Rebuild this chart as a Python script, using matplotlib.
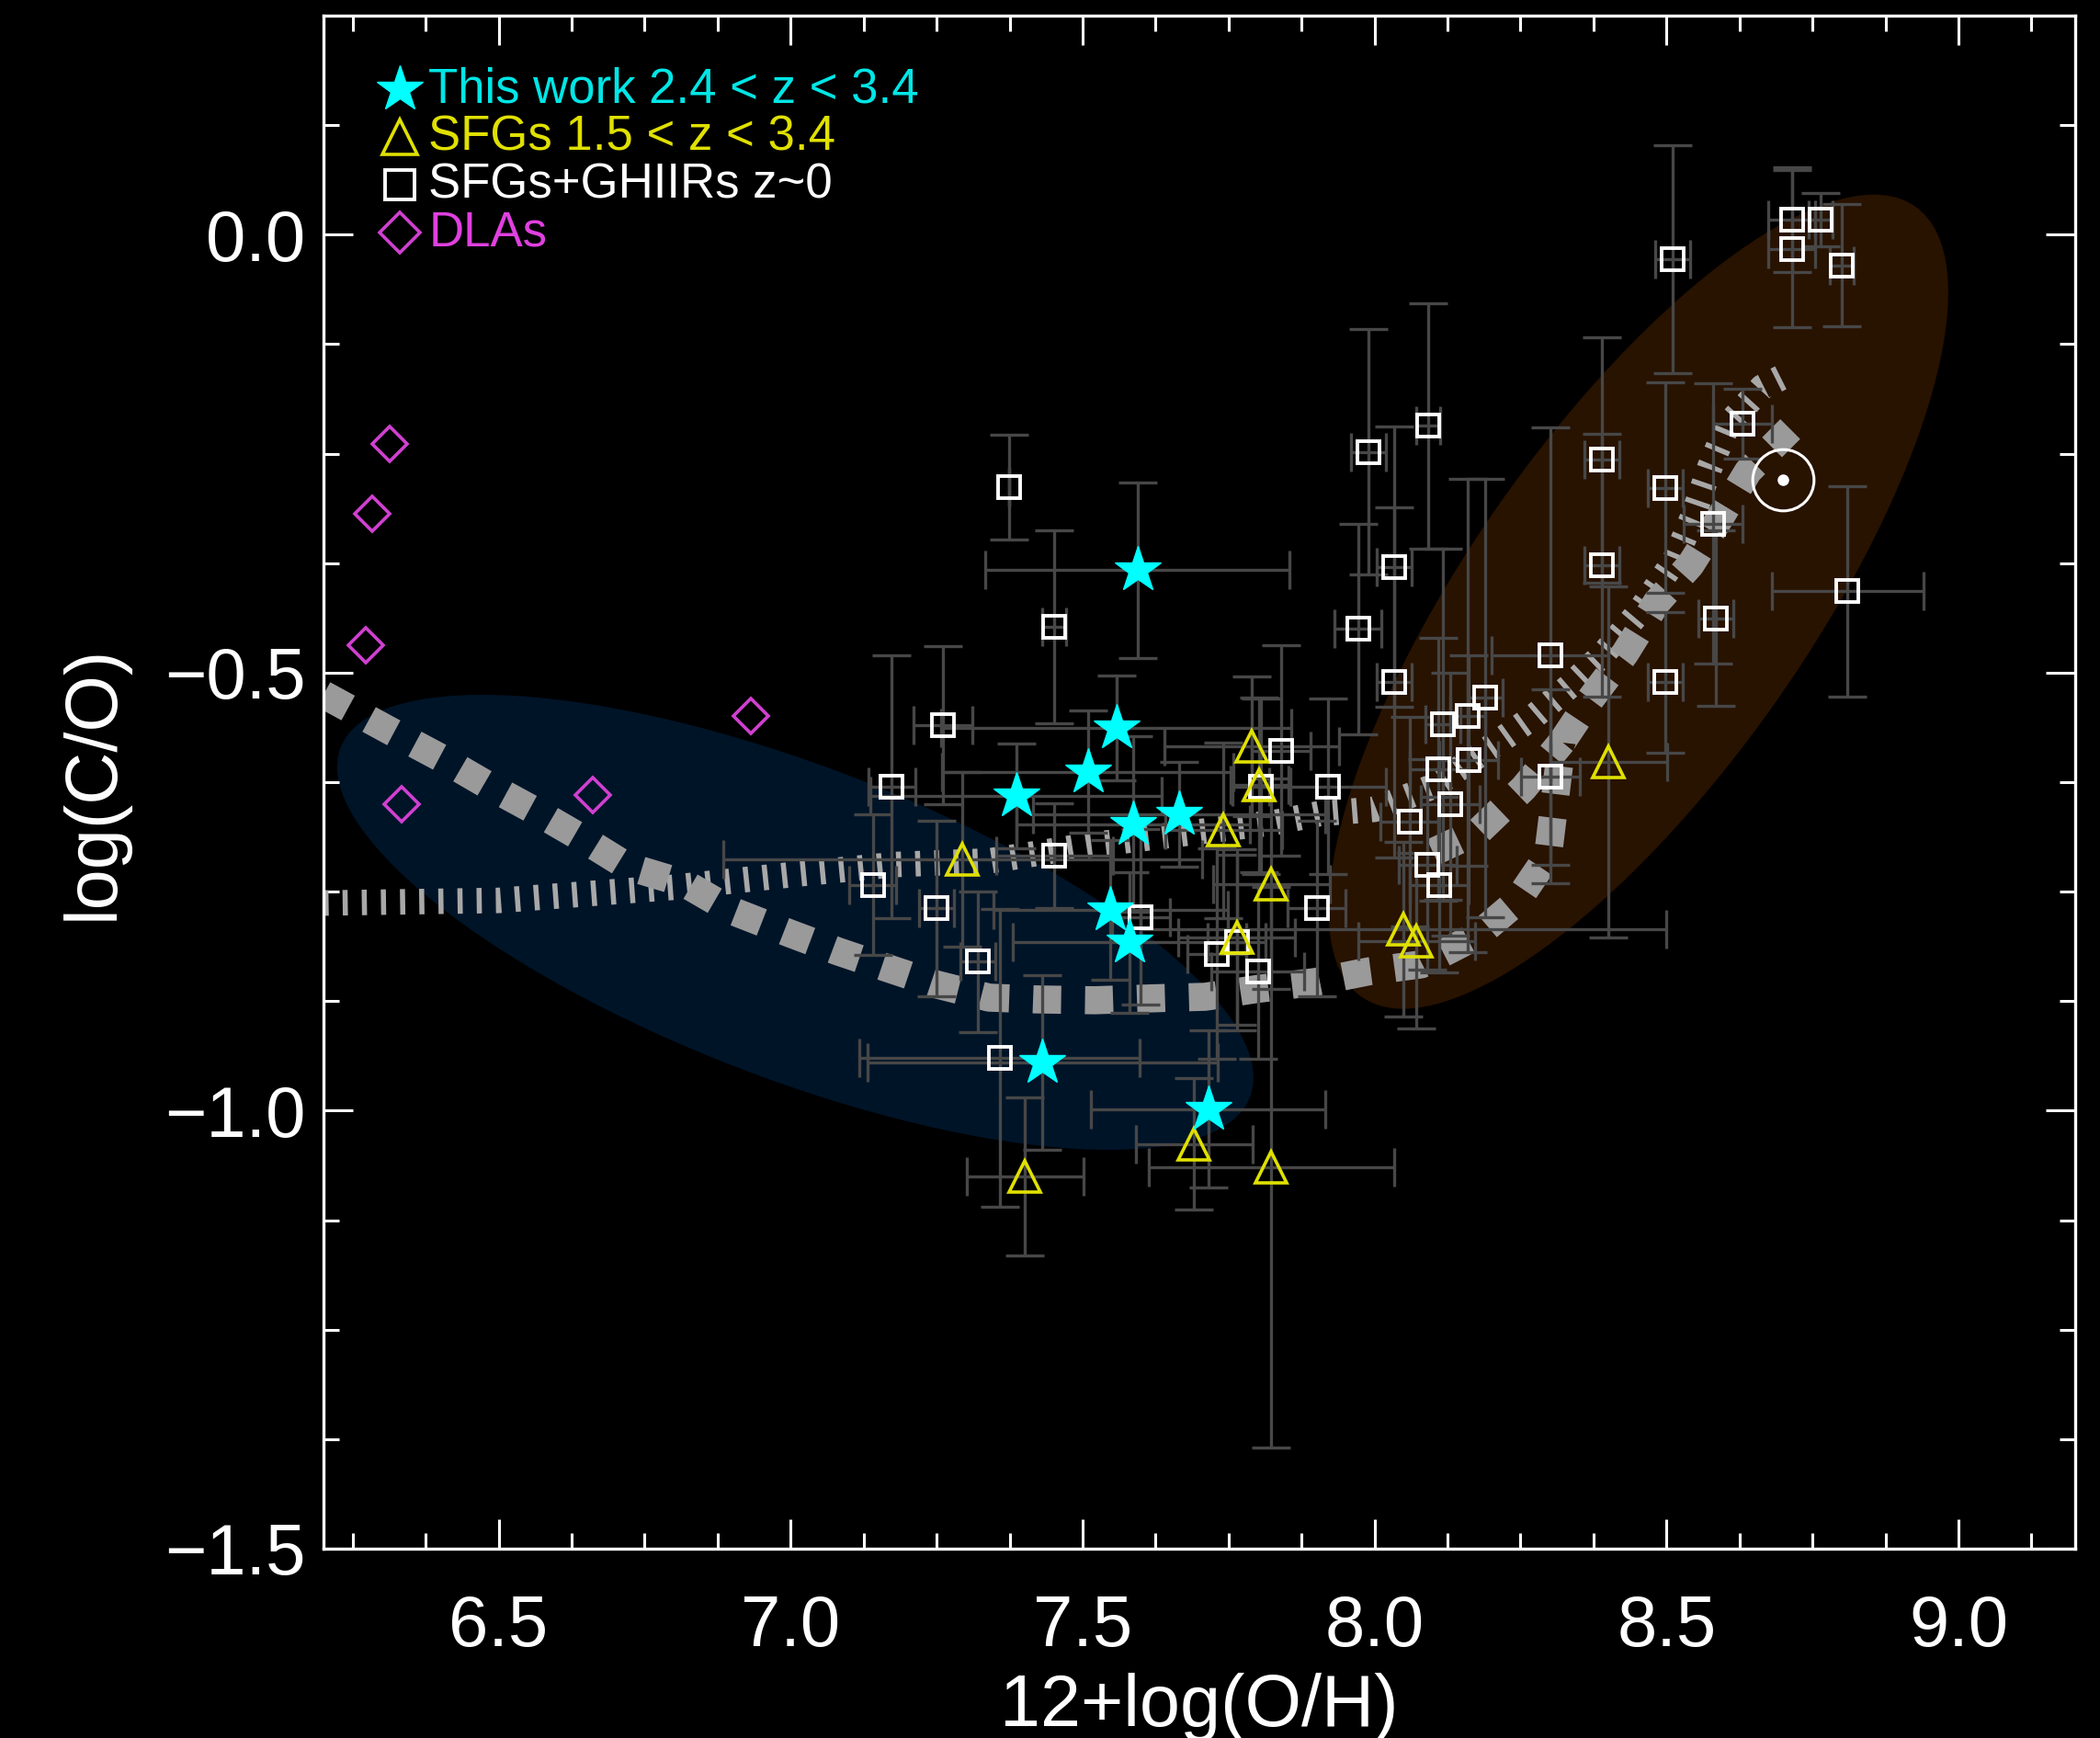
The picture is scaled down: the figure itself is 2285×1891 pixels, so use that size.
import numpy as np
import matplotlib
matplotlib.use('Agg')
import matplotlib.pyplot as plt
from matplotlib.patches import Ellipse
from matplotlib.transforms import Affine2D

plt.rcParams['font.family'] = ['Liberation Sans', 'DejaVu Sans']

# This work, 2.4 < z < 3.4
this_oh = [7.594, 7.558, 7.509, 7.386, 7.587, 7.665, 7.548, 7.581, 7.431, 7.715]
this_co = [-0.383, -0.563, -0.613, -0.641, -0.673, -0.662, -0.771, -0.808, -0.945, -0.998]
this_oh_err = [0.26, 0.30, 0.25, 0.25, 0.20, 0.25, 0.20, 0.20, 0.30, 0.20]
this_co_err = [0.10, 0.06, 0.07, 0.06, 0.10, 0.06, 0.08, 0.08, 0.10, 0.09]

# SFGs 1.5 < z < 3.4
sfg_oh = [7.790, 7.803, 7.741, 7.294, 7.823, 7.764, 8.049, 8.072, 8.401, 7.691, 7.401, 7.823]
sfg_co = [-0.584, -0.628, -0.680, -0.713, -0.741, -0.802, -0.793, -0.806, -0.602, -1.038, -1.075, -1.065]
sfg_oh_err = [0.15, 0.05, 0.10, 0.41, 0.10, 0.10, 0.45, 0.10, 0.10, 0.10, 0.10, 0.21]
sfg_co_err = [0.08, 0.10, 0.10, 0.10, 0.12, 0.10, 0.10, 0.10, 0.20, 0.075, 0.09, 0.32]

# local SFGs + giant HII regions
loc_oh = [7.374, 7.451, 7.261, 7.173, 7.141, 7.250, 7.320, 7.358, 7.452, 7.600,
          7.730, 7.764, 7.800, 7.840, 7.806, 7.920, 7.901, 7.990, 7.972, 8.033,
          8.033, 8.092, 8.117, 8.160, 8.189, 8.110, 8.161, 8.130, 8.060, 8.091,
          8.111, 8.301, 8.301, 8.389, 8.389, 8.498, 8.580, 8.584, 8.498, 8.630,
          8.810, 8.511, 8.715, 8.764, 8.715, 8.800]
loc_co = [-0.288, -0.448, -0.560, -0.630, -0.742, -0.769, -0.830, -0.940, -0.709, -0.779,
          -0.821, -0.808, -0.841, -0.589, -0.630, -0.630, -0.769, -0.248, -0.450, -0.379,
          -0.511, -0.218, -0.559, -0.549, -0.529, -0.610, -0.600, -0.650, -0.670, -0.719,
          -0.742, -0.480, -0.619, -0.257, -0.377, -0.289, -0.330, -0.438, -0.511, -0.216,
          -0.407, -0.028, 0.017, 0.017, -0.016, -0.035]
loc_oh_err = [0.00, 0.02, 0.05, 0.04, 0.04, 0.03, 0.03, 0.24, 0.10, 0.05,
              0.05, 0.05, 0.08, 0.05, 0.05, 0.10, 0.05, 0.03, 0.04, 0.03,
              0.03, 0.02, 0.03, 0.03, 0.03, 0.05, 0.05, 0.05, 0.05, 0.05,
              0.05, 0.10, 0.05, 0.03, 0.03, 0.03, 0.05, 0.03, 0.03, 0.05,
              0.13, 0.03, 0.04, 0.02, 0.04, 0.02]
loc_co_err = [0.06, 0.11, 0.09, 0.15, 0.08, 0.10, 0.08, 0.17, 0.06, 0.10,
              0.12, 0.10, 0.10, 0.12, 0.10, 0.10, 0.10, 0.14, 0.12, 0.16,
              0.20, 0.14, 0.20, 0.27, 0.25, 0.15, 0.12, 0.15, 0.12, 0.12,
              0.10, 0.26, 0.10, 0.14, 0.15, 0.12, 0.16, 0.10, 0.08, 0.04,
              0.12, 0.13, 0.06, 0.03, 0.09, 0.07]

# damped Lyman-alpha systems
dla_oh = [6.314, 6.283, 6.273, 6.333, 6.661, 6.932]
dla_co = [-0.239, -0.319, -0.469, -0.650, -0.640, -0.549]

# solar value
sun_oh, sun_co = 8.70, -0.28

# chemical evolution tracks
track_a_oh = [6.20, 6.31, 6.40, 6.48, 6.56, 6.64, 6.72, 6.82, 6.90, 7.00, 7.08, 7.16,
              7.25, 7.34, 7.42, 7.52, 7.61, 7.71, 7.80, 7.90, 7.99, 8.08, 8.176, 8.243,
              8.297, 8.321, 8.369, 8.429, 8.483, 8.541, 8.59, 8.640, 8.712]
track_a_co = [-0.525, -0.565, -0.597, -0.628, -0.657, -0.688, -0.721, -0.741, -0.772,
              -0.798, -0.818, -0.836, -0.856, -0.871, -0.873, -0.874, -0.872, -0.870,
              -0.861, -0.853, -0.841, -0.833, -0.800, -0.762, -0.709, -0.579, -0.531,
              -0.478, -0.420, -0.377, -0.325, -0.270, -0.222]
track_c_oh = [8.10, 8.18, 8.255, 8.321]
track_c_co = [-0.705, -0.680, -0.632, -0.579]
track_b_oh = [6.20, 6.50, 6.80, 7.01, 7.18, 7.34, 7.51, 7.67, 7.83, 7.905, 8.00, 8.10,
              8.212, 8.273, 8.333, 8.393, 8.454, 8.514, 8.544, 8.574, 8.604, 8.664, 8.706]
track_b_co = [-0.763, -0.760, -0.745, -0.730, -0.719, -0.715, -0.697, -0.684, -0.671,
              -0.661, -0.656, -0.630, -0.579, -0.550, -0.516, -0.478, -0.430, -0.372,
              -0.324, -0.266, -0.218, -0.174, -0.160]

# regions: centre (data), semi-axes (pixels), angle (deg)
low_region = (7.008, -0.785, 530, 170, -21)
high_region = (8.452, -0.419, 525, 185, 55)

legend_labels = ['This work 2.4 < z < 3.4', 'SFGs 1.5 < z < 3.4', 'SFGs+GHIIRs z~0', 'DLAs']
legend_colors = ['#00e6e6', '#e0e000', 'white', '#e040e0']

xmin, xmax = 6.2, 9.2
ymin, ymax = -1.5, 0.25

fig = plt.figure(figsize=(22.85, 18.91), dpi=100, facecolor='black')
ax = fig.add_axes([0.15405, 0.10894, 0.83414, 0.88207], facecolor='black')
ax.set_xlim(xmin, xmax)
ax.set_ylim(ymin, ymax)

# pixels per data unit, used to draw the regions in screen-like units
bbox = ax.get_position()
ppx = bbox.width * fig.get_figwidth() * fig.dpi / (xmax - xmin)
ppy = bbox.height * fig.get_figheight() * fig.dpi / (ymax - ymin)

for (cx, cy, a, b, ang), col in [(low_region, '#001428'), (high_region, '#281200')]:
    tr = Affine2D().scale(1 / ppx, 1 / ppy).translate(cx, cy) + ax.transData
    ax.add_patch(Ellipse((0, 0), 2 * a, 2 * b, angle=ang, transform=tr,
                         facecolor=col, edgecolor='none', zorder=1))

ax.plot(track_b_oh, track_b_co, color='#a8a8a8', lw=20, dashes=(0.2, 0.55),
        dash_capstyle='butt', zorder=2)
ax.plot(track_a_oh, track_a_co, color='#9a9a9a', lw=22, dashes=(1.0, 0.85),
        dash_capstyle='butt', zorder=2)
ax.plot(track_c_oh, track_c_co, color='#9a9a9a', lw=22, dashes=(1.0, 0.85),
        dash_capstyle='butt', zorder=2)

ebar = dict(fmt='none', ecolor='#474747', elinewidth=2.4, capsize=15, capthick=2.4, zorder=3)
ax.errorbar(loc_oh, loc_co, xerr=loc_oh_err, yerr=loc_co_err, **ebar)
ax.errorbar(sfg_oh, sfg_co, xerr=sfg_oh_err, yerr=sfg_co_err, **ebar)
ax.errorbar(this_oh, this_co, xerr=this_oh_err, yerr=this_co_err, **ebar)

ax.plot(loc_oh, loc_co, 's', ms=17, mfc='none', mec='white', mew=2.8, zorder=5)
ax.plot(sfg_oh, sfg_co, '^', ms=24, mfc='none', mec='#e0e000', mew=2.6, zorder=5)
ax.plot(dla_oh, dla_co, 'D', ms=19, mfc='none', mec='#d040d0', mew=2.6, zorder=5)
ax.plot(this_oh, this_co, '*', ms=38, color='#00ffff', mec='#00ffff', zorder=6)

# solar symbol
ax.plot(sun_oh, sun_co, 'o', ms=48, mfc='none', mec='white', mew=2.2, zorder=6)
ax.plot(sun_oh, sun_co, 'o', ms=8, color='white', zorder=6)

# legend drawn by hand in axes coordinates
leg_markers = [dict(marker='*', ms=38, color='#00ffff', mec='#00ffff'),
               dict(marker='^', ms=28, mfc='none', mec='#e0e000', mew=2.6),
               dict(marker='s', ms=23, mfc='none', mec='white', mew=2.8),
               dict(marker='D', ms=22, mfc='none', mec='#d040d0', mew=2.6)]
for i, (lab, col, mk) in enumerate(zip(legend_labels, legend_colors, leg_markers)):
    yy = 0.952 - i * 0.0312
    ax.plot([0.0435], [yy], linestyle='none', transform=ax.transAxes, clip_on=False, zorder=7, **mk)
    ax.text(0.0600, yy, lab, color=col, fontsize=38, transform=ax.transAxes,
            ha='left', va='center', zorder=7)

for side in ax.spines.values():
    side.set_color('white')
    side.set_linewidth(2.4)

ax.set_xticks([6.5, 7.0, 7.5, 8.0, 8.5, 9.0])
ax.set_xticks(np.arange(6.25, 9.2, 0.125), minor=True)
ax.set_yticks([-1.5, -1.0, -0.5, 0.0])
ax.set_yticks(np.arange(-1.5, 0.25, 0.125), minor=True)
ax.tick_params(which='both', direction='in', colors='white', top=True, right=True, width=2.2)
ax.tick_params(which='major', length=23, labelsize=56)
ax.tick_params(which='minor', length=12)
ax.tick_params(axis='x', pad=35)
ax.tick_params(axis='y', pad=14)
ax.set_xticklabels(['6.5', '7.0', '7.5', '8.0', '8.5', '9.0'])
ax.set_yticklabels(['\u22121.5', '\u22121.0', '\u22120.5', '0.0'])

ax.set_xlabel('12+log(O/H)', color='white', fontsize=57, labelpad=10)
ax.set_ylabel('log(C/O)', color='white', fontsize=57, labelpad=28)

fig.savefig('out.png', dpi=100, facecolor='black')
